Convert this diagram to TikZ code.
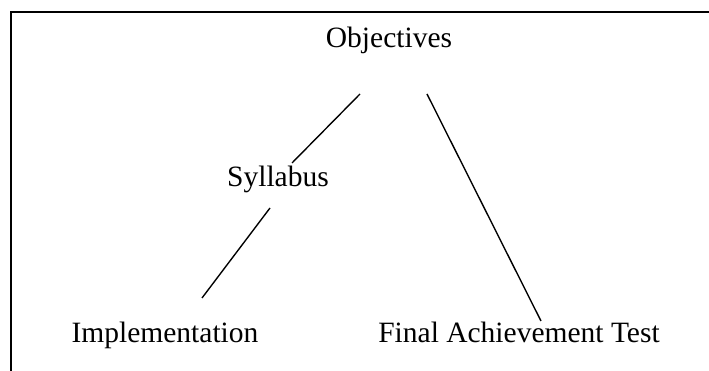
\documentclass[tikz,border=0pt]{standalone}
\usepackage{fontspec}
\setmainfont{Liberation Serif}
\usepackage{tikz}
\usetikzlibrary{positioning}

\begin{document}
\begin{tikzpicture}[x=0.4pt, y=-0.4pt, font=\fontsize{11.8}{14}\selectfont]

            \useasboundingbox (0,0) rectangle (709,371);

            % frame: top and left edges only
            \draw[line width=0.8pt] (11,371) -- (11,12) -- (709,12);

            \node[anchor=base] (obj) at (389,48) {Objectives};
            \node[anchor=base] (syl) at (278,187) {Syllabus};
            \node[anchor=base] (impl) at (165,343) {Implementation};
            \node[anchor=base] (fat) at (519,343) {Final Achievement Test};

            % line ends
            \coordinate (obj-l) at (360,94);
            \coordinate (obj-r) at (427,94);
            \coordinate (syl-t) at (292,163);
            \coordinate (syl-b) at (270,208);
            \coordinate (impl-t) at (202,298);
            \coordinate (fat-t) at (541,321);

            % Connections
            \draw[line width=0.55pt] (obj-l) -- (syl-t);
            \draw[line width=0.55pt] (syl-b) -- (impl-t);
            \draw[line width=0.55pt] (obj-r) -- (fat-t);

        \end{tikzpicture}
\end{document}
